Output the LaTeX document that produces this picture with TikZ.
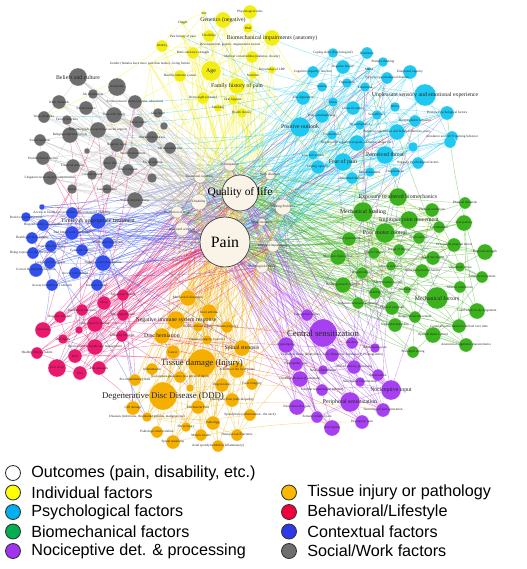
\documentclass[tikz,border=0pt]{standalone}
\usepackage{fontspec}
\setmainfont{Liberation Serif}
\newfontfamily\legendfont{Liberation Sans}
\usetikzlibrary{backgrounds}

\pgfdeclarelayer{front}
\pgfsetlayers{background,main,front}

\definecolor{yelc}{RGB}{242,238,20}
\definecolor{psyc}{RGB}{30,200,240}
\definecolor{bioc}{RGB}{60,178,30}
\definecolor{nocc}{RGB}{166,64,240}
\definecolor{tisc}{RGB}{245,175,0}
\definecolor{behc}{RGB}{235,25,110}
\definecolor{ctxc}{RGB}{50,80,240}
\definecolor{socc}{RGB}{110,110,110}
\definecolor{outc}{RGB}{250,243,232}
% legend colours
\definecolor{lyel}{RGB}{255,255,0}
\definecolor{lpsy}{RGB}{0,176,240}
\definecolor{lbio}{RGB}{0,176,80}
\definecolor{lnoc}{RGB}{160,50,240}
\definecolor{ltis}{RGB}{250,185,0}
\definecolor{lbeh}{RGB}{240,0,60}
\definecolor{lctx}{RGB}{46,56,232}
\definecolor{lsoc}{RGB}{110,110,110}

% one coloured group of factors: prefix, colour, list x/y/r/size/label
\newcommand\cluster[3]{%
  \foreach [count=\i] \x/\y/\r/\s/\t in {#3} {
    \node[dot, fill=#2, minimum size=\r*0.4mm] (#1\i) at (\x,\y) {};
    \begin{pgfonlayer}{front}
      \node[sz\s] (#1\i-t) at (#1\i) {\t};
    \end{pgfonlayer}
    \xdef\lastn{\i}
  }%
  \expandafter\xdef\csname n#1\endcsname{\lastn}%
}

\begin{document}
\begin{tikzpicture}[
    x=0.02cm, y=-0.02cm,
    dot/.style={circle, inner sep=0pt, draw=white, line width=0.1pt},
    sz1/.style={font=\fontsize{1.9}{2}\selectfont, inner sep=0pt, text=black!85},
    sz2/.style={font=\fontsize{3.3}{3.6}\selectfont, inner sep=0pt, text=black!85},
    sz3/.style={font=\fontsize{5}{5.5}\selectfont, inner sep=0pt, text=black!85},
    edge/.style={line width=0.2pt, opacity=0.55},
    hub/.style={circle, inner sep=0pt, fill=outc, draw=black!75, line width=0.4pt},
    key/.style={circle, draw=black!80, line width=0.5pt, minimum size=0.3cm, inner sep=0pt},
    keytext/.style={font=\legendfont\fontsize{9.2}{10}\selectfont, anchor=west, inner sep=0pt}
]
\useasboundingbox (0,0) rectangle (527,569);

% Outcomes
\node[hub, minimum size=18*0.4mm] (qol) at (240,193) {};
\node[hub, minimum size=25*0.4mm] (pain) at (225,242) {};
\begin{pgfonlayer}{front}
  \node[font=\fontsize{6.5}{7}\selectfont, inner sep=0pt] (qol-t) at (qol) {Quality of life};
  \node[font=\fontsize{9}{10}\selectfont, inner sep=0pt] (pain-t) at (pain) {Pain};
\end{pgfonlayer}
\begin{scope}[dot/.append style={draw=black!45, line width=0.15pt}]
\cluster{out}{outc}{230/165/6/1/{Participation}, 200/177/6/1/{Functional capability},
  270/175/5/1/{Sleep disorders}, 199/202/8/1/{Disability}, 283/207/8/1/{Walking Problems},
  177/212/6/1/{Restriction of work}, 262/222/4/1/{Work limitation},
  182/229/7/1/{Restricted activities}, 273/246/6/1/{Physical Impairments},
  262/267/6/1/{Neurological Deficit}}
\end{scope}

% Individual factors
\cluster{yel}{yelc}{204/13/2/1/{Sex}, 250/12/7/1/{Physiological risks},
  223/20/8/2/{Genetics (negative)}, 183/23/2/1/{Height}, 248/28/5/1/{BMI},
  209/36/6/1/{Flexibility}, 272/38/8/2/{Biomechanical impairments (anatomy)},
  183/37/2/1/{Past history of pain}, 162/46/6/1/{Identity},
  230/45/1/1/{Developmental, genetic, degenerative factors},
  193/53/6/1/{Bone substance strength}, 252/57/6/1/{Medical comorbidities (diabetes, obesity)},
  150/64/1/1/{Gender (females have more pain than males) - being female},
  211/71/10/2/{Age}, 180/76/6/1/{Healthy immune system}, 272/70/4/1/{Knowledge of LBP},
  253/75/4/1/{Nutrition}, 237/86/8/2/{Family history of pain}, 203/98/6/1/{Overweight (obesity)},
  233/100/5/1/{Oral hygiene}, 218/108/4/1/{Smoking}, 242/113/5/1/{Health literacy}}

% Psychological factors
\cluster{psy}{psyc}{333/53/5/1/{Coping skills (Psychological)}, 367/53/6/1/{Resilience},
  383/62/5/1/{Positive thinking}, 343/67/7/1/{Negative history}, 369/69/2/1/{Mood},
  410/72/7/1/{Emotional capacity}, 313/72/6/1/{Cognitive capacity/ function},
  387/78/6/1/{Perceived psychological distress}, 322/87/5/1/{Anxiety},
  347/83/5/1/{Depression}, 365/87/5/1/{Loneliness},
  425/95/11/2/{Unpleasant sensory and emotional experience}, 303/98/7/1/{Anti-depressive},
  333/102/5/1/{Stress}, 395/107/5/1/{Worry}, 353/108/7/1/{Locus of control},
  447/113/7/1/{Positive Psychological factors}, 322/116/7/1/{Pain catastrophizing},
  377/115/5/1/{Self-efficacy}, 415/121/6/1/{Kinesiophobic behavior},
  300/127/10/2/{Positive outlook}, 360/125/5/1/{Hypervigilance},
  397/132/8/1/{Negative experiences and beliefs (emotions, pain)},
  452/137/6/1/{Avoidance and safety seeking behavior}, 332/135/5/1/{Expectations},
  357/143/8/1/{Negative life experiences (pain, addiction, abuse, etc.)},
  450/142/6/1/{}, 413/147/5/1/{}, 313/155/5/1/{Low self-esteem},
  343/162/9/2/{Fear of pain}, 385/155/9/2/{Perceived threat}, 318/167/7/1/{Coping capacity},
  418/163/6/1/{Negative Psychological factors}, 352/178/6/1/{Emotional distress},
  370/172/5/1/{Mood disorders}, 395/172/5/1/{Helplessness}}

% Biomechanical factors
\cluster{bio}{bioc}{398/197/9/2/{Exposure to altered biomechanics}, 363/212/10/2/{Mechanical loading},
  432/210/7/1/{Physical conditions}, 465/203/6/1/{Physical demands},
  409/220/9/2/{Improper joint movement}, 464/223/8/1/{Poor posture},
  385/233/10/2/{Poor motor control}, 439/227/6/1/{Coordination}, 349/239/7/1/{Joint dysfunction},
  419/238/6/1/{Sports injuries}, 454/245/7/1/{Occupation (manual labor)},
  485/252/8/1/{Regional strength}, 374/253/6/1/{Muscle fatigue}, 399/250/6/1/{Range of motion},
  338/257/8/1/{Muscular dysfunction}, 433/258/7/1/{Rigid movement}, 391/266/5/1/{Muscle weakness},
  460/267/5/1/{Vibrational stress}, 422/271/7/1/{Abnormal joint mechanics},
  362/273/6/1/{Hypermobility}, 482/277/6/1/{Adaptive movement},
  343/285/8/1/{Building muscle strength}, 388/282/6/1/{Altered motor control},
  460/287/6/1/{Muscle contraction}, 375/293/6/1/{Stability}, 407/290/4/1/{Joint loading},
  358/303/6/1/{Unbalanced muscle activation}, 437/298/11/2/{Mechanical factors},
  477/311/8/1/{Good whole body Alignment}, 392/308/7/1/{Physical overload},
  415/317/6/1/{Inappropriate movement}, 395/325/7/1/{Segmental instability},
  459/326/7/1/{Cumulative mechanical overload over time}, 433/335/8/1/{Optimal motor control},
  466/345/7/1/{Anatomical alignment characteristics}, 413/352/6/1/{Prolonged sitting}}

% Nociceptive detection and processing
\cluster{noc}{nocc}{307/315/6/1/{Supraspinal factors}, 323/333/14/3/{Central sensitization},
  286/345/8/1/{Hyperalgesia}, 352/343/6/1/{Allodynia}, 375/348/5/1/{Reperfusion pain},
  332/355/7/1/{Chemical release (Bradykinin, ACh, Histamine, Substance P, Prostaglandin)},
  296/364/7/1/{Neuropathic pain}, 323/370/5/1/{Neuroinflammation},
  354/367/7/1/{Altered sensory processing}, 378/375/6/1/{Sensitization},
  300/379/8/1/{Chemical Release (Glutamate)}, 360/382/5/1/{Neurogenic inflammation},
  391/390/10/2/{Nociceptive input}, 322/390/6/1/{Vascular inflammation (edema)},
  350/402/10/2/{Peripheral sensitization}, 297/407/8/1/{Neuromuscular pain},
  383/410/7/1/{Neurological pain generation}, 317/417/6/1/{Somatic referred pain},
  332/428/8/1/{Nociception}, 362/422/7/1/{Discogenic pain}}

% Tissue injury or pathology
\cluster{tis}{tisc}{188/298/8/1/{Mechanical disruption}, 209/312/8/1/{Facet arthritis},
  176/320/9/2/{Negative immune system response}, 198/327/5/1/{Reduced blood supply},
  227/327/6/1/{Trauma (injury)}, 162/336/8/2/{Disc herniation},
  207/340/5/1/{Disease (surgery, fracture)}, 242/348/8/2/{Spinal stenosis}, 173/352/7/1/{Cancer},
  202/363/14/3/{Tissue damage (Injury)}, 237/370/8/1/{Arthritis of the facet joints},
  152/369/6/1/{Inflammation}, 180/377/6/1/{Nociceptive generators (via physical input)},
  135/380/6/1/{Pro-inflammatory state}, 222/385/7/1/{Degeneration}, 252/384/6/1/{Facet integrity},
  190/388/4/1/{}, 163/396/14/3/{Degenerative Disc Disease (DDD)},
  232/400/7/1/{Discogenic Pain (radiculopathy)}, 133/408/7/1/{Cell damage},
  198/407/7/1/{Mechanical Pain}, 250/415/6/1/{Spondylosis (inflammation - the neck)},
  147/417/5/1/{Diseases (infections, rheumatoid arthritis, malignancies)},
  157/432/6/1/{Pathologic intervertebral}, 173/442/7/1/{Spinal instability},
  186/427/5/1/{Nerve injury}, 201/435/6/1/{Muscle strains}, 213/423/7/1/{Pathology},
  237/435/6/1/{Osteoporosis/Fractures}, 218/446/6/1/{Axial spondyloarthritis (inflammatory)}}

% Behavioral / lifestyle
\cluster{beh}{behc}{123/295/6/1/{Ergonomic factors}, 104/303/7/1/{Sleep},
  82/310/6/1/{Insufficient nutrition}, 60/317/6/1/{Negative lifestyle},
  95/324/8/1/{Low physical activity}, 123/315/6/1/{Smoking/Alcohol}, 43/330/8/1/{Smoking},
  79/330/4/1/{}, 122/336/6/1/{Sedentary lifestyle}, 63/339/5/1/{Diet habits},
  95/347/8/1/{Involvement in health-care management}, 37/353/6/1/{Healthy lifestyle habits},
  75/356/7/1/{Time}, 57/368/9/1/{Poor sleep}, 80/373/7/1/{Diet}, 99/368/7/1/{Life demands}}

% Contextual factors
\cluster{ctx}{ctxc}{42/207/3/1/{}, 26/217/5/1/{Positive communication},
  43/225/6/1/{Hospital/health care services},
  72/213/6/1/{Access to health care providers who understand disability},
  98/221/8/2/{Timely \& appropriate treatment}, 32/238/6/1/{Health providers beliefs},
  72/233/7/1/{Bad fitting work conditions}, 108/243/6/1/{Inadequate health care},
  51/246/6/1/{Poor effective care}, 82/250/6/1/{Economic factors},
  33/253/6/1/{Being exposed to the environment}, 50/263/6/1/{Lack of social support},
  103/263/8/1/{Negative contextual factors}, 36/270/7/1/{Correct \& adequate diagnosis},
  75/273/6/1/{Access to treatment}, 52/285/6/1/{Access to health care network},
  97/285/6/1/{Insurance status}}

% Social / work factors
\cluster{soc}{socc}{78/77/9/2/{Beliefs and culture}, 117/87/9/1/{Autonomy},
  93/94/5/1/{Job satisfaction}, 59/102/7/1/{Work demands},
  135/102/7/1/{Socioeconomic status (income, education)}, 86/108/7/1/{Social balance},
  114/115/8/1/{Time with family}, 44/117/6/1/{Work disability}, 67/120/5/1/{Family structure},
  158/113/5/1/{Sick leave}, 138/122/6/1/{Social roles}, 164/126/4/1/{},
  98/130/8/1/{Rewarding job, occupational social support}, 70/135/8/1/{Religious/spiritual beliefs},
  40/140/6/1/{Social isolation}, 152/137/6/1/{Work-related stress}, 117/145/7/1/{Negative work},
  87/151/3/1/{}, 133/153/6/1/{Work environment}, 170/148/6/1/{Job dissatisfaction},
  43/158/7/1/{Positive Social factors}, 73/166/7/1/{Financial stability}, 110/163/7/1/{Work life},
  128/170/6/1/{Social support}, 153/162/5/1/{Social network}, 92/175/5/1/{Unemployment},
  50/178/7/1/{Litigation/work-related compensation}, 152/178/5/1/{}, 72/189/5/1/{Rural},
  107/189/5/1/{Low education}, 135/200/8/1/{Socioeconomic status}}

% connections
\begin{scope}[on background layer]
  \fill[white] (0,0) rectangle (527,569);
  \foreach \i in {1,...,10}
    \draw[edge, black!30] (out\i) -- (pain) (out\i) -- (qol);
  \foreach \c/\col in {yel/yelc, psy/psyc, bio/bioc, noc/nocc, tis/tisc, beh/behc, ctx/ctxc, soc/socc!50} {
    \pgfmathtruncatemacro\N{\csname n\c\endcsname}
    \foreach \i in {1,...,\N} {
      \pgfmathtruncatemacro\j{mod(\i*5+2,\N)+1}
      \pgfmathtruncatemacro\k{mod(\i*3,10)+1}
      \pgfmathtruncatemacro\m{mod(\i*7+4,10)+1}
      \draw[edge, \col] (\c\i) to[bend left=8] (pain);
      \draw[edge, \col] (\c\i) to[bend left=5] (out\k);
      \ifnum\k=\m\else\draw[edge, \col] (\c\i) to[bend right=5] (out\m);\fi
      \ifnum\j=\i\else\draw[edge, \col] (\c\i) to[bend left=6] (\c\j);\fi
      \ifodd\i\draw[edge, \col] (\c\i) to[bend right=6] (qol);\fi
    }
  }
  \foreach \a/\b/\col in {soc/ctx/behc, soc/beh/behc, beh/tis/behc, beh/psy/behc, tis/noc/tisc,
      noc/bio/nocc, bio/psy/bioc, psy/yel/psyc, yel/soc/yelc, ctx/beh/ctxc, beh/noc/behc,
      tis/bio/tisc, psy/soc/psyc, noc/psy/nocc, yel/bio/yelc, ctx/tis/ctxc} {
    \foreach \i in {1,...,7} {
      \pgfmathtruncatemacro\p{mod(\i*4,\csname n\a\endcsname)+1}
      \pgfmathtruncatemacro\q{mod(\i*3+1,\csname n\b\endcsname)+1}
      \draw[edge, \col] (\a\p) to[bend left=6] (\b\q);
    }
  }
\end{scope}

% Legend
\foreach [count=\i] \col/\t in {white/{Outcomes (pain, disability, etc.)}, lyel/{Individual factors},
    lpsy/{Psychological factors}, lbio/{Biomechanical factors}, lnoc/{Nociceptive det. \& processing}} {
  \node[key, fill=\col] (k\i) at (13,473+19.5*\i-19.5) {};
  \node[keytext] (k\i-t) at (31,473+19.5*\i-19.5) {\t};
}
\foreach [count=\i from 2] \col/\t in {ltis/{Tissue injury or pathology}, lbeh/{Behavioral/Lifestyle},
    lctx/{Contextual factors}, lsoc/{Social/Work factors}} {
  \node[key, fill=\col] (m\i) at (289,473+19.5*\i-19.5) {};
  \node[keytext] (m\i-t) at (307,473+19.5*\i-19.5) {\t};
}

\end{tikzpicture}
\end{document}
